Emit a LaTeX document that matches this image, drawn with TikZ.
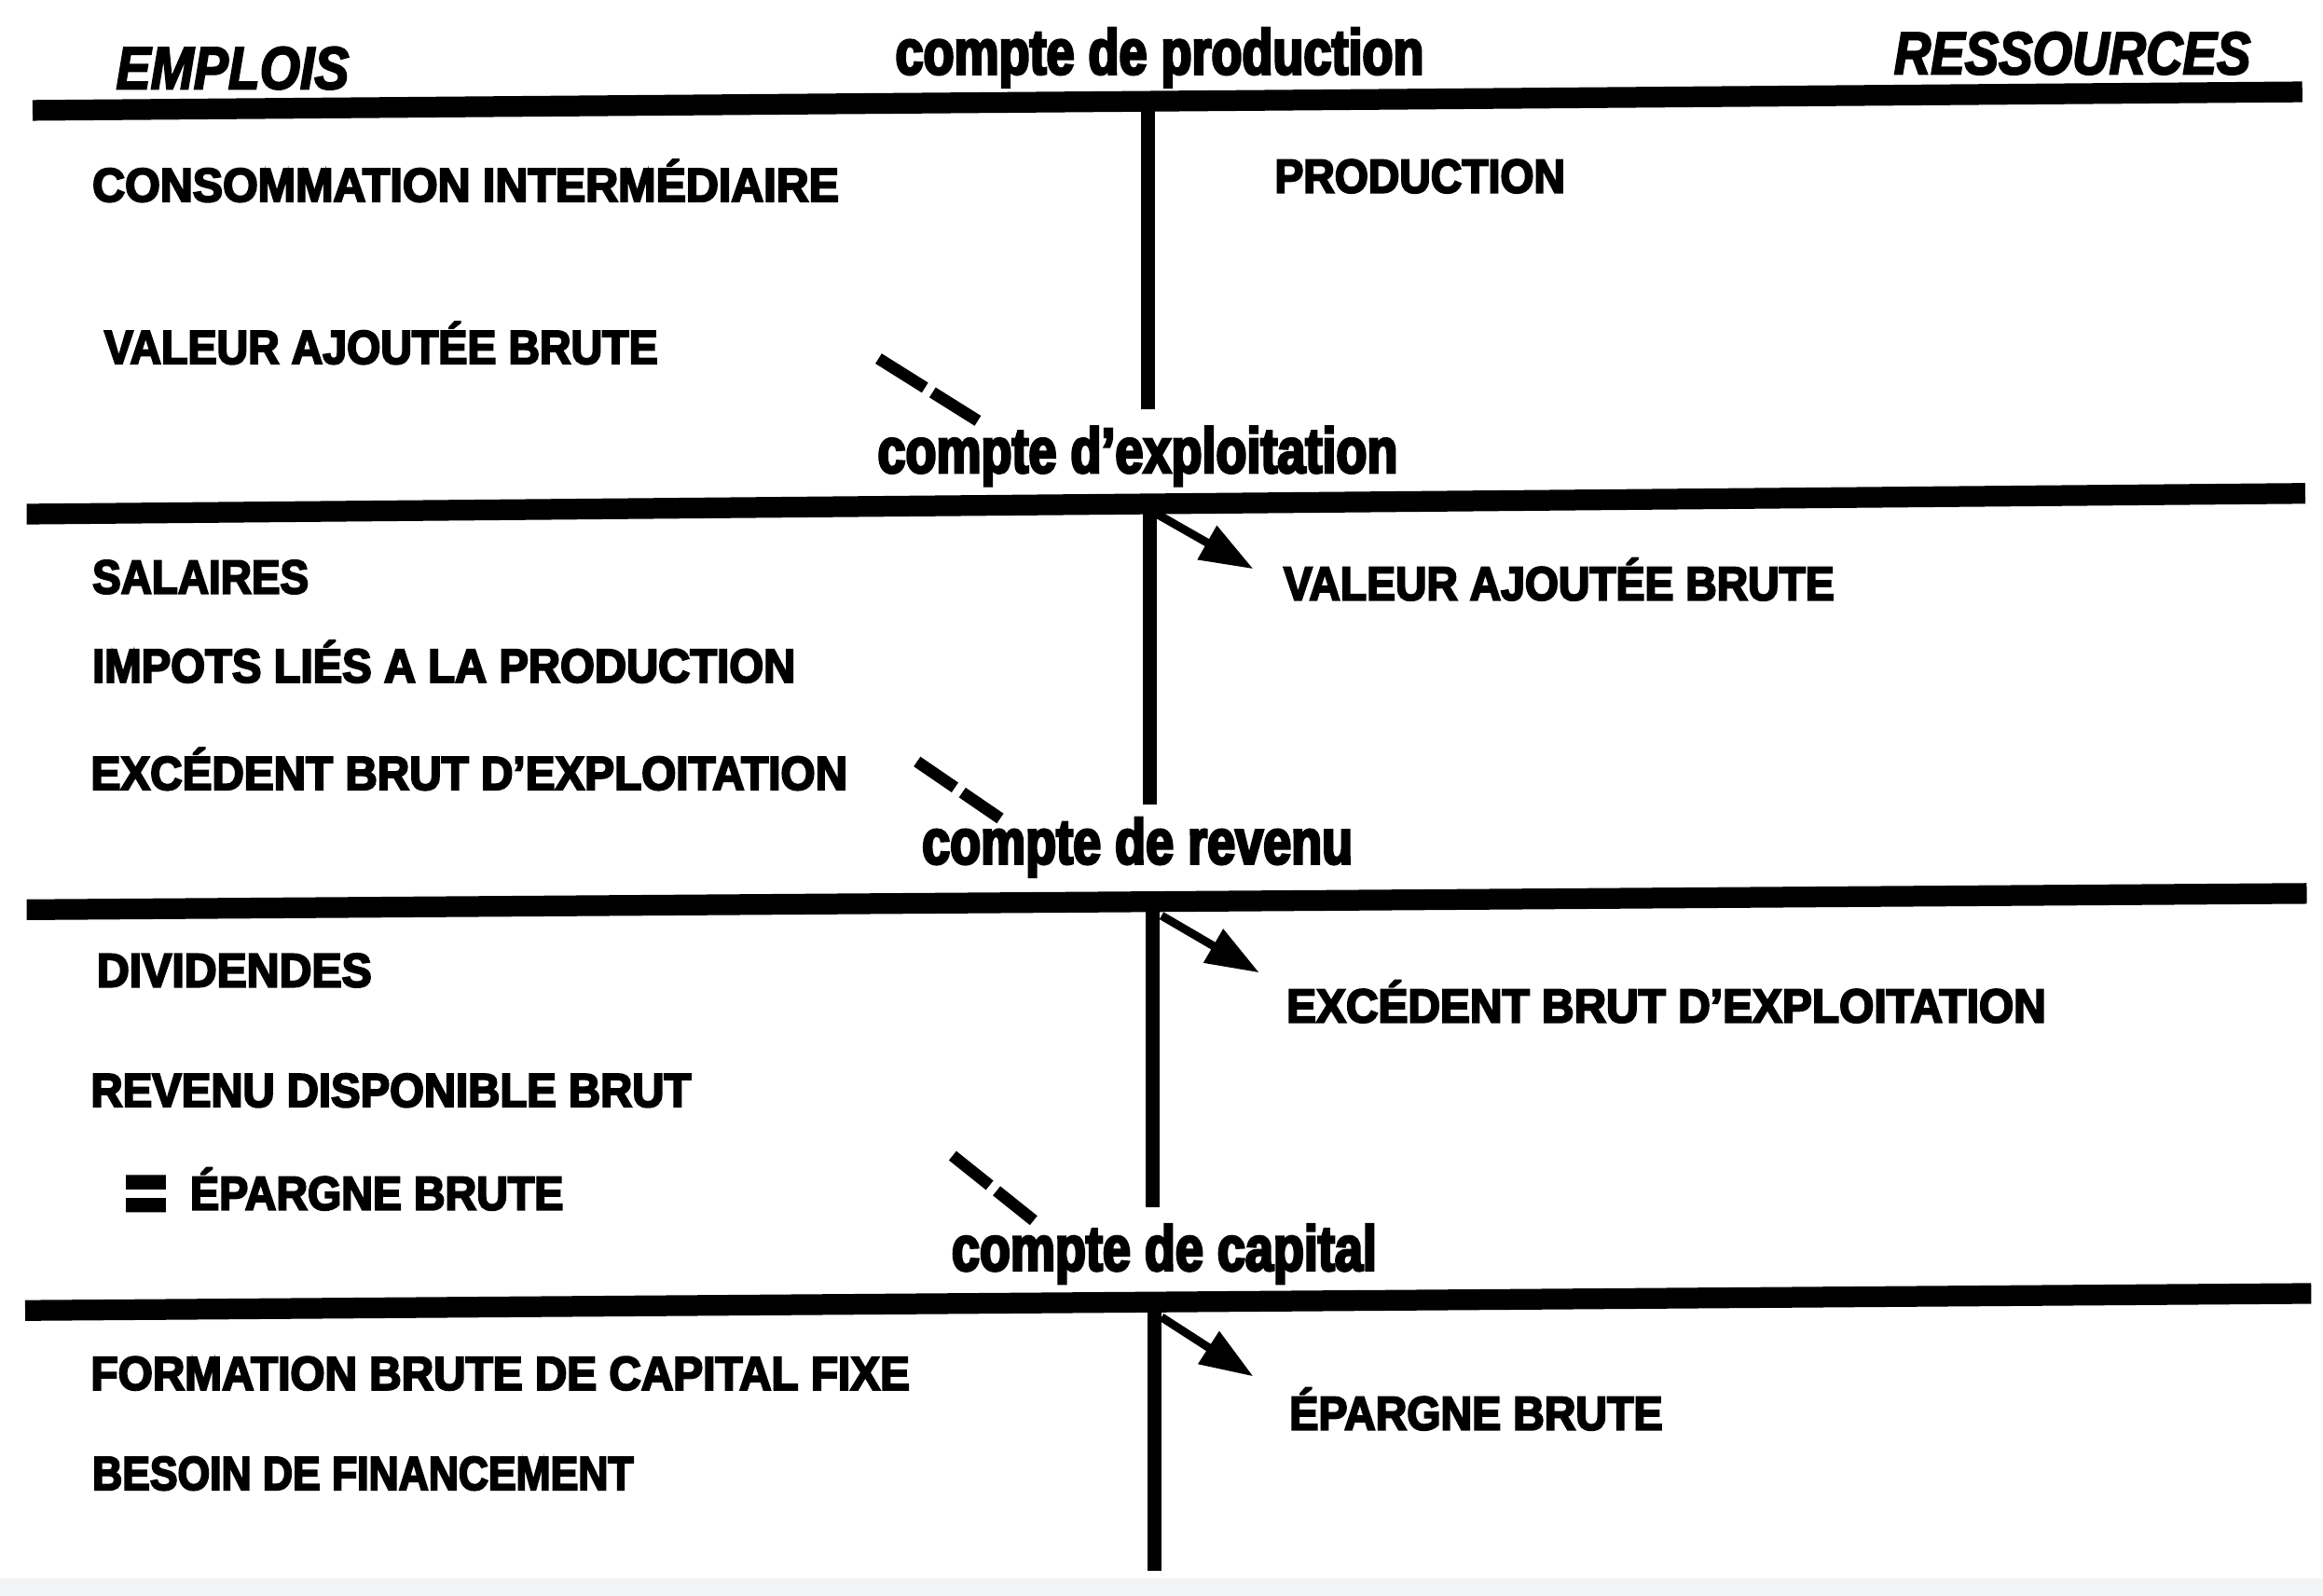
\documentclass[tikz,border=0pt]{standalone}
\usepackage{fontspec}
\setmainfont{Liberation Sans}
\newfontfamily\capsfont{Liberation Sans}[FakeStretch=0.93,FakeBold=4]
\newfontfamily\titlefont{Liberation Sans}[FakeStretch=0.79,FakeBold=4]
\newfontfamily\headfont{Liberation Sans}[FakeStretch=0.86,FakeBold=3]
\newfontfamily\eqfont{Liberation Sans}[FakeBold=6]
\newcommand{\hsq}[2]{\scalebox{#1}[1]{#2}}
\usetikzlibrary{arrows.meta}
\definecolor{stripgray}{HTML}{F2F3F5}
\begin{document}
\begin{tikzpicture}[x=0.5pt,y=-0.5pt,
  bar/.style={line width=7pt},
  vline/.style={line width=4.75pt},
  flow/.style={line width=2.8pt,-{Triangle[length=18pt,width=12.5pt]}},
  dashmark/.style={line width=4pt,dash pattern=on #1 off 3pt},
  itemtxt/.style={anchor=base west,inner sep=0pt,font=\capsfont\bfseries\fontsize{16pt}{16pt}\selectfont},
  titletxt/.style={anchor=base west,inner sep=0pt,font=\titlefont\bfseries\fontsize{21.5pt}{21.5pt}\selectfont},
  headtxt/.style={anchor=base west,inner sep=0pt,font=\headfont\bfseries\itshape\fontsize{20.3pt}{20.3pt}\selectfont},
]
\fill[white] (0,0) rectangle (1568,1077.2);
\useasboundingbox (0,0) rectangle (1568,1077.2);
\fill[stripgray] (0,1065) rectangle (1568,1077.2);

% headings and account titles
\node[headtxt] (emplois) at (78,60) {EMPLOIS};
\node[titletxt] (tprod) at (604,50) {compte de production};
\node[headtxt] (ress) at (1278,50) {\hsq{0.985}{RESSOURCES}};
\node[titletxt] (texpl) at (592,319) {compte d’exploitation};
\node[titletxt] (trev) at (622,583) {compte de revenu};
\node[titletxt] (tcap) at (642,857.5) {compte de capital};

% items
\node[itemtxt] (ci) at (62,136) {\hsq{1.024}{CONSOMMATION INTERMÉDIAIRE}};
\node[itemtxt] (prod) at (860,130) {\hsq{0.98}{PRODUCTION}};
\node[itemtxt] (vab1) at (70,245.5) {\hsq{0.984}{VALEUR AJOUTÉE BRUTE}};
\node[itemtxt] (sal) at (62,400.5) {\hsq{0.97}{SALAIRES}};
\node[itemtxt] (vab2) at (866,405) {\hsq{0.979}{VALEUR AJOUTÉE BRUTE}};
\node[itemtxt] (imp) at (62,460.5) {IMPOTS LIÉS A LA PRODUCTION};
\node[itemtxt] (ebe1) at (61,533) {\hsq{1.008}{EXCÉDENT BRUT D’EXPLOITATION}};
\node[itemtxt] (div) at (65,666) {\hsq{1.02}{DIVIDENDES}};
\node[itemtxt] (ebe2) at (868,690) {\hsq{1.012}{EXCÉDENT BRUT D’EXPLOITATION}};
\node[itemtxt] (rdb) at (61,747) {REVENU DISPONIBLE BRUT};
\node[itemtxt] (epb1) at (84,816.5) {\raisebox{-4.1pt}{\scalebox{1.5}[1.8]{\eqfont =}}\hspace{8pt}\hsq{0.985}{ÉPARGNE BRUTE}};
\node[itemtxt] (fbcf) at (61,938) {\hsq{1.009}{FORMATION BRUTE DE CAPITAL FIXE}};
\node[itemtxt] (epb2) at (870,965) {\hsq{0.985}{ÉPARGNE BRUTE}};
\node[itemtxt] (bdf) at (62,1005.5) {\hsq{0.94}{BESOIN DE FINANCEMENT}};

% coordinates
\coordinate (b1l) at (22,74.5);  \coordinate (b1r) at (1554,62);
\coordinate (b2l) at (18,347);   \coordinate (b2r) at (1556,333);
\coordinate (b3l) at (18,614);   \coordinate (b3r) at (1557,603);
\coordinate (b4l) at (17,884.5); \coordinate (b4r) at (1560,873);
\coordinate (v1t) at (775,70);  \coordinate (v1b) at (775,276);
\coordinate (v2t) at (776,340); \coordinate (v2b) at (776,543);
\coordinate (v3t) at (778,609); \coordinate (v3b) at (778,815);
\coordinate (v4t) at (779,879); \coordinate (v4b) at (779,1060);
\coordinate (a1s) at (781,347); \coordinate (a1e) at (846,384);
\coordinate (a2s) at (784,618); \coordinate (a2e) at (850,656.5);
\coordinate (a3s) at (784,889); \coordinate (a3e) at (846,929);
\coordinate (d1s) at (593,242); \coordinate (d1e) at (660,284);
\coordinate (d2s) at (619,514); \coordinate (d2e) at (676,553);
\coordinate (d3s) at (643,780); \coordinate (d3e) at (698,824);

% bars
\draw[bar] (b1l) -- (b1r);
\draw[bar] (b2l) -- (b2r);
\draw[bar] (b3l) -- (b3r);
\draw[bar] (b4l) -- (b4r);
\draw[vline] (v1t) -- (v1b);
\draw[vline] (v2t) -- (v2b);
\draw[vline] (v3t) -- (v3b);
\draw[vline] (v4t) -- (v4b);

% transfers
\draw[flow] (a1s) -- (a1e);
\draw[flow] (a2s) -- (a2e);
\draw[flow] (a3s) -- (a3e);
\draw[dashmark=18.5pt] (d1s) -- (d1e);
\draw[dashmark=15.5pt] (d2s) -- (d2e);
\draw[dashmark=16pt] (d3s) -- (d3e);
\end{tikzpicture}
\end{document}
